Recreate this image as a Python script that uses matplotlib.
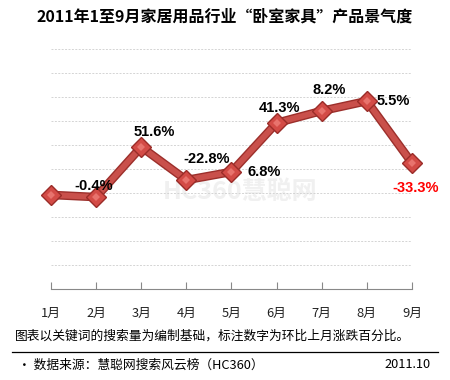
import matplotlib
matplotlib.use("Agg")
import matplotlib.pyplot as plt

CJK = ["Noto Sans CJK SC", "DejaVu Sans"]
NUMFONT = ["Liberation Sans", "DejaVu Sans"]

# data (relative index, axis is hidden)
months = ["1月", "2月", "3月", "4月", "5月", "6月", "7月", "8月", "9月"]
index_values = [3.92, 3.83, 5.92, 4.54, 4.88, 6.92, 7.42, 7.83, 5.25]
change_labels = [None, "-0.4%", "51.6%", "-22.8%", "6.8%", "41.3%", "8.2%", "5.5%", "-33.3%"]

# label placement relative to each point, in pixels
label_offsets = [(0, 0), (-2, 11), (13, 15), (20, 21), (33, 0), (3, 15), (7, 21), (26, 0), (4, -25)]
label_colors = ["k"] * 8 + ["#ff0000"]

fig = plt.figure(figsize=(4.5, 3.8), dpi=100)
ax = fig.add_axes([51 / 450, 91 / 380, 361 / 450, 240 / 380])

x = list(range(1, len(months) + 1))

# faint watermark behind the line
ax.text(5.2, 4.05, "HC360慧聪网", family=CJK, fontsize=18, fontweight="bold",
        style="italic", color="#f0f0f0", ha="center", va="center", zorder=0)

# line with a darker rim to mimic the bevel
ax.plot(x, index_values, color="#9c2f2b", lw=6.2, solid_capstyle="round", zorder=2, clip_on=False)
ax.plot(x, index_values, color="#c9504b", lw=4.2, solid_capstyle="round", zorder=3, clip_on=False)
ax.plot(x, index_values, linestyle="none", marker="D", markersize=10.5, clip_on=False,
        markerfacecolor="#d34b46", markeredgecolor="#9a2c28", markeredgewidth=1.0, zorder=4)
ax.plot(x, index_values, linestyle="none", marker="D", markersize=4.5, clip_on=False,
        markerfacecolor="#e8736d", markeredgewidth=0, zorder=5)

for xi, yi, lab, off, col in zip(x, index_values, change_labels, label_offsets, label_colors):
    if lab is None:
        continue
    ax.annotate(lab, (xi, yi), xytext=off, textcoords="offset pixels",
                ha="center", va="center", family=NUMFONT, fontweight="bold",
                fontsize=10.5, color=col, zorder=6)

ax.set_xlim(1, 9)
ax.set_ylim(0, 10)
ax.set_yticks(range(1, 11))
ax.yaxis.grid(True, color="#d4d4d4", linestyle=(0, (2, 1.5)), linewidth=0.7)
ax.set_axisbelow(True)
ax.tick_params(axis="y", left=False, labelleft=False)
ax.set_xticks(x)
ax.set_xticklabels(months, family=CJK, fontsize=9.3, color="#222222")
ax.tick_params(axis="x", direction="in", length=5, width=0.8, color="#888888", pad=13)
for side in ["left", "right", "top"]:
    ax.spines[side].set_visible(False)
ax.spines["bottom"].set_color("#888888")
ax.spines["bottom"].set_linewidth(0.8)

fig.text(0.5, 1 - 17 / 380, "2011年1至9月家居用品行业“卧室家具”产品景气度",
         family=CJK, fontsize=11.5, fontweight="bold", ha="center", va="center")
fig.text(15 / 450, 1 - 336 / 380, "图表以关键词的搜索量为编制基础，标注数字为环比上月涨跌百分比。",
         family=CJK, fontsize=9.2, ha="left", va="center")
fig.add_artist(plt.Line2D([12 / 450, 438 / 450], [1 - 352 / 380] * 2, color="k", lw=0.9))
fig.text(18 / 450, 1 - 365 / 380, "• 数据来源：慧聪网搜索风云榜（HC360）",
         family=CJK, fontsize=9.2, ha="left", va="center")
fig.text(431 / 450, 1 - 365 / 380, "2011.10", family=CJK, fontsize=9.2,
         ha="right", va="center")

fig.savefig("out.png", dpi=100)
